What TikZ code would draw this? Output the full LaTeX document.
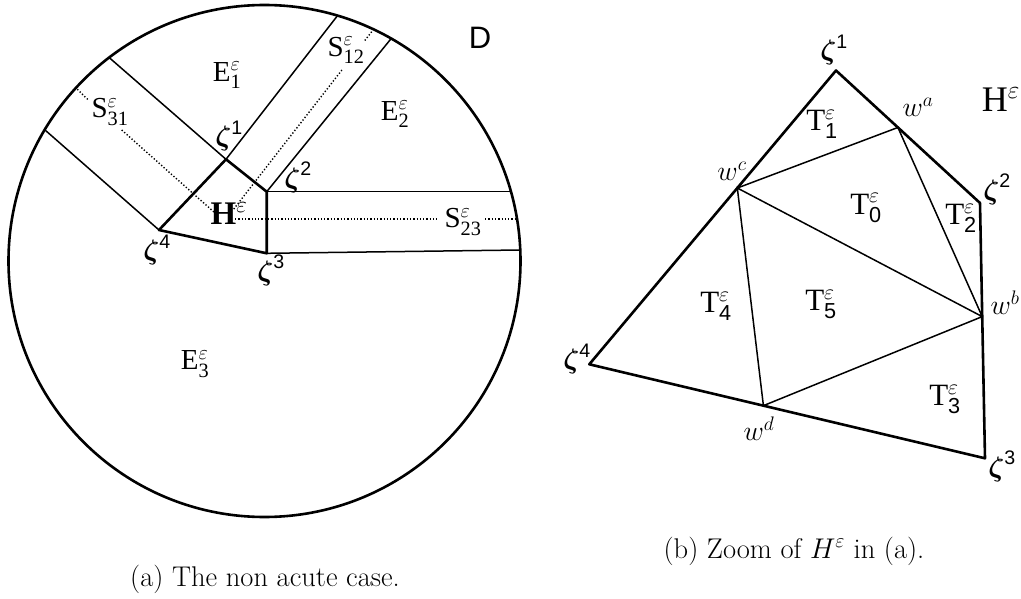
\documentclass[tikz,border=0pt]{standalone}
\usepackage{fix-cm}
\usepackage{amsmath}
\usepackage{fontspec}
\setsansfont{Liberation Sans}
\newfontfamily\tms{Liberation Serif}
\usetikzlibrary{calc}
\tikzset{
  thickln/.style={line width=2.6pt, line join=round, line cap=round},
  thinln/.style={line width=1.5pt},
  dotln/.style={line width=1.4pt, dash pattern=on 1.3pt off 2pt},
  lbl/.style={inner sep=0pt, font=\tms\fontsize{29}{29}\selectfont},
  tlbl/.style={inner sep=0pt, font=\tms\fontsize{31}{31}\selectfont},
  zlbl/.style={inner sep=0pt, font=\fontsize{28}{28}\selectfont},
  wlbl/.style={inner sep=0pt, font=\fontsize{28}{28}\selectfont},
  caplbl/.style={inner sep=0pt, font=\fontsize{28.5}{32}\selectfont},
}
\newcommand{\zl}[1]{$\boldsymbol{\zeta}^{\text{\sffamily #1}}$}
\newcommand{\el}[2]{#1$^{\varepsilon}_{\text{#2}}$}
\newcommand{\tl}[1]{T$^{\varepsilon}_{\text{\sffamily #1}}$}
\begin{document}
\begin{tikzpicture}[x=1pt,y=-1pt]
\useasboundingbox (0,0) rectangle (1021,599);
% ---------- (a) ----------
\coordinate (C) at (264.5,261);
\coordinate (Z1L) at (226,159.3);
\coordinate (Z2L) at (266.7,191.7);
\coordinate (Z3L) at (266.7,253.3);
\coordinate (Z4L) at (159,230);
\coordinate (P4) at (45,130);
\coordinate (P1a) at (110,58.3);
\coordinate (P1b) at (336.7,16.7);
\coordinate (P2a) at (390,40);
\coordinate (P2b) at (510,191.7);
\coordinate (P3) at (520,250);
\begin{scope}
  \clip (C) circle[radius=256];
  \draw[thinln] (Z4L) -- ($(Z4L)!1.3!(P4)$);
  \draw[thinln] (Z1L) -- ($(Z1L)!1.3!(P1a)$);
  \draw[thinln] (Z1L) -- ($(Z1L)!1.3!(P1b)$);
  \draw[thinln] (Z2L) -- ($(Z2L)!1.3!(P2a)$);
  \draw[thinln] (Z2L) -- ($(Z2L)!1.3!(P2b)$);
  \draw[thinln] (Z3L) -- ($(Z3L)!1.3!(P3)$);
\end{scope}
\draw[thickln] (C) circle[radius=256];
\draw[thickln] (Z4L) -- (Z1L) -- (Z2L) -- (Z3L) -- cycle;
% dotted medians
\draw[dotln] (77.3,89.3) -- (88.3,100);
\draw[dotln] (121.7,130) -- (215,213);
\draw[dotln] (371.7,31.7) -- (363.9,41.7);
\draw[dotln] (341.9,70) -- (233,210);
\draw[dotln] (235,219) -- (437,219);
\draw[dotln] (485,219) -- (517,219);
% labels
\node[inner sep=0pt, font=\sffamily\fontsize{31}{31}\selectfont] (D) at (480,38) {D};
\node[lbl] (E1) at (227,75) {\el{E}{1}};
\node[lbl] (E2) at (395,114) {\el{E}{2}};
\node[lbl] (E3) at (195,364) {\el{E}{3}};
\node[lbl] (S12) at (346,50) {\el{S}{12}};
\node[lbl] (S31) at (110,112) {\el{S}{31}};
\node[lbl] (S23) at (463,222) {\el{S}{23}};
\node[inner sep=0pt, font=\tms\bfseries\fontsize{33}{33}\selectfont] (HL) at (229,214) {H$^{\varepsilon}$};
\node[zlbl] (z1L) at (229,136) {\zl{1}};
\node[zlbl] (z2L) at (298,177) {\zl{2}};
\node[zlbl] (z3L) at (271,270) {\zl{3}};
\node[zlbl] (z4L) at (157,250) {\zl{4}};
\node[caplbl] (capa) at (265,579) {(a) The non acute case.};
% ---------- (b) ----------
\coordinate (Z1) at (836,70.5);
\coordinate (Z2) at (980,203);
\coordinate (Z3) at (985,458.3);
\coordinate (Z4) at (589.3,364.3);
\coordinate (Wa) at ($(Z1)!0.43!(Z2)$);
\coordinate (Wb) at ($(Z2)!0.445!(Z3)$);
\coordinate (Wc) at ($(Z4)!0.6!(Z1)$);
\coordinate (Wd) at ($(Z4)!0.44!(Z3)$);
\draw[thinln] (Wc) -- (Wa) -- (Wb) -- (Wd) -- (Wc) -- (Wb);
\draw[thickln] (Z1) -- (Z2) -- (Z3) -- (Z4) -- cycle;
\node[zlbl] (z1) at (834,50) {\zl{1}};
\node[zlbl] (z2) at (997,189) {\zl{2}};
\node[zlbl] (z3) at (1002,466) {\zl{3}};
\node[zlbl] (z4) at (577,359) {\zl{4}};
\node[wlbl] (wa) at (918,107) {$w^{a}$};
\node[wlbl] (wb) at (1005,303) {$w^{b}$};
\node[wlbl] (wc) at (732,171) {$w^{c}$};
\node[wlbl] (wd) at (759,429) {$w^{d}$};
\node[inner sep=0pt, font=\tms\fontsize{36}{36}\selectfont] (HR) at (1001,100) {H$^{\varepsilon}$};
\node[tlbl] (T0) at (866,208) {\tl{0}};
\node[tlbl] (T1) at (822,124) {\tl{1}};
\node[tlbl] (T2) at (961,218) {\tl{2}};
\node[tlbl] (T3) at (945,399) {\tl{3}};
\node[tlbl] (T4) at (716,306) {\tl{4}};
\node[tlbl] (T5) at (821,304) {\tl{5}};
\node[caplbl] (capb) at (794,551) {(b) Zoom of $H^{\varepsilon}$ in (a).};
\end{tikzpicture}
\end{document}
